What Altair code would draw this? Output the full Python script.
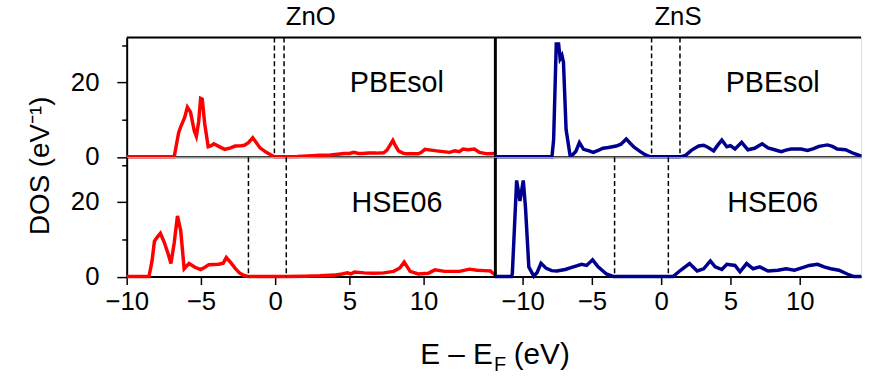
import altair as alt
import pandas as pd

FONT = "Liberation Sans"

# ---------------- data ----------------
zno_pbe_x = [-10, -6.8, -6.5, -6.35, -6.1, -5.91, -5.7, -5.45, -5.31, -5.15, -5.02, -4.91, -4.75, -4.51,
             -4.3, -4.13, -3.8, -3.4, -3.0, -2.69, -2.3, -2.07, -1.8, -1.51, -1.3, -1.02, -0.6, -0.24,
             -0.05, 0.6, 1.5, 2.5, 3.0, 3.73, 4.2, 4.65, 5.0, 5.3, 5.6, 5.9, 6.3, 6.8, 7.31, 7.53, 7.75,
             7.93, 8.1, 8.31, 8.6, 8.87, 9.2, 9.64, 9.85, 10.09, 10.5, 10.87, 11.3, 11.75, 12.1, 12.4,
             12.65, 13.0, 13.42, 13.76, 14.3, 14.8]
zno_pbe_y = [0, 0, 6.5, 8.2, 10.5, 13.3, 12.0, 7.0, 5.5, 9.5, 15.7, 15.5, 9.0, 2.7,
             3.0, 3.5, 2.8, 2.0, 2.4, 2.9, 3.0, 3.1, 3.8, 5.1, 4.0, 2.4, 1.2, 0.4,
             0, 0, 0.1, 0.3, 0.4, 0.5, 0.7, 0.9, 0.9, 1.2, 0.9, 0.9, 1.0, 1.0, 1.1, 1.8, 3.2,
             4.4, 3.0, 1.6, 1.0, 0.8, 0.8, 0.8, 1.2, 2.0, 1.8, 1.6, 1.4, 1.2, 1.6, 1.4,
             2.1, 1.9, 2.1, 1.2, 0.8, 0.9]
zno_pbe_gap = [-0.05, 0.6]

zno_hse_x = [-10, -8.5, -8.3, -8.13, -7.9, -7.73, -7.47, -7.2, -7.02, -6.8, -6.58, -6.36, -6.13, -5.8,
             -5.4, -5.02, -4.7, -4.47, -3.8, -3.5, -3.29, -3.0, -2.69, -2.4, -2.13, -1.8, 0.75, 2.0,
             3.0, 4.0, 4.5, 4.87, 5.1, 5.33, 6.0, 6.64, 7.3, 7.98, 8.4, 8.69, 8.9, 9.09, 9.64, 10.31,
             10.76, 11.42, 12.0, 12.42, 13.09, 13.6, 14.09, 14.5, 14.8]
zno_hse_y = [0, 0, 4.0, 9.5, 10.8, 11.6, 9.2, 6.0, 3.5, 9.0, 16.3, 12.3, 2.1, 3.5,
             2.5, 1.9, 2.6, 3.2, 3.3, 3.6, 5.1, 3.8, 2.2, 1.0, 0.35, 0, 0, 0.1,
             0.2, 0.4, 0.7, 1.0, 0.7, 1.2, 1.0, 0.9, 1.0, 1.4, 2.3, 3.9, 2.6, 1.4, 0.7, 0.9,
             1.8, 1.4, 1.4, 1.4, 2.0, 1.7, 1.6, 1.5, 0.5]
zno_hse_gap = [-1.8, 0.75]

zns_pbe_x = [-12, -7.88, -7.76, -7.57, -7.4, -7.29, -7.16, -7.05, -6.86, -6.57, -6.4, -6.15, -5.9, -5.6,
             -5.2, -4.9, -4.5, -4.19, -3.8, -3.24, -2.9, -2.52, -2.2, -1.93, -1.5, -1.21, -0.8, 1.36,
             1.76, 2.2, 2.71, 3.07, 3.4, 3.79, 4.1, 4.38, 4.74, 5.0, 5.33, 5.81, 6.26, 6.74, 7.29, 7.71,
             8.19, 8.67, 9.0, 9.38, 10.1, 10.57, 11.0, 11.4, 12.0, 12.36, 12.71, 13.31, 13.9, 14.45]
zns_pbe_y = [0, 0, 4.6, 30.3, 30.3, 26.3, 27.2, 25.4, 7.3, 0.3, 0.5, 1.5, 3.8, 2.0,
             1.6, 1.2, 1.8, 2.3, 2.5, 2.9, 3.4, 4.8, 3.5, 2.5, 1.4, 0.7, 0, 0,
             0.4, 1.8, 2.9, 3.1, 2.5, 1.6, 3.2, 4.5, 2.7, 3.0, 2.1, 3.9, 1.9, 2.3, 3.5, 2.4,
             1.9, 1.4, 1.8, 2.1, 2.1, 1.7, 2.2, 2.8, 3.2, 2.8, 2.1, 1.9, 0.9, 0.2]
zns_pbe_gap = [-0.69, 1.36]

zns_hse_x = [-12, -10.8, -10.74, -10.43, -10.19, -9.95, -9.79, -9.55, -9.19, -8.95, -8.67, -8.29, -7.9,
             -7.52, -6.93, -6.33, -5.74, -5.38, -4.95, -4.55, -3.95, -3.43, 0.52, 0.86, 1.4, 2.05, 2.6,
             3.07, 3.55, 3.9, 4.38, 4.74, 5.33, 5.69, 6.17, 6.64, 7.12, 7.71, 8.43, 9.02, 9.62, 10.21,
             10.69, 11.29, 11.76, 12.24, 12.83, 13.43, 13.9, 14.45]
zns_hse_y = [0, 0, 0.8, 25.8, 20.3, 25.8, 18.5, 2.6, 0.1, 1.1, 3.6, 2.2, 1.6,
             1.5, 1.9, 2.6, 3.3, 3.0, 4.5, 2.6, 0.7, 0, 0, 0, 1.7, 3.5, 1.5,
             2.1, 4.2, 2.6, 1.9, 3.3, 3.0, 1.3, 3.5, 2.1, 2.6, 1.5, 1.7, 2.1, 1.7, 2.4,
             3.0, 3.3, 2.6, 2.1, 1.7, 0.7, 0.0, 0]
zns_hse_gap = [-3.36, 0.52]

materials = ["ZnO", "ZnS"]
methods = ["PBEsol", "HSE06"]
colors = {"ZnO": "#ff0000", "ZnS": "#00008f"}
x_domains = {"ZnO": [-10, 14.8], "ZnS": [-12, 14.43]}
widths = {"ZnO": 372, "ZnS": 370}
x_ticks = [-10, -5, 0, 5, 10]
y_ticks = [0, 10, 20, 30]
y_max = 32
label_pos = {"ZnO": 8.2, "ZnS": 8.05}
label_y = 19.7

series = {
    ("ZnO", "PBEsol"): (zno_pbe_x, zno_pbe_y, zno_pbe_gap),
    ("ZnO", "HSE06"): (zno_hse_x, zno_hse_y, zno_hse_gap),
    ("ZnS", "PBEsol"): (zns_pbe_x, zns_pbe_y, zns_pbe_gap),
    ("ZnS", "HSE06"): (zns_hse_x, zns_hse_y, zns_hse_gap),
}

PANEL_H = 120.5


def panel(mat, meth, row, col):
    xs, ys, gap = series[(mat, meth)]
    df = pd.DataFrame({"E": xs, "DOS": ys})
    xscale = alt.Scale(domain=x_domains[mat], nice=False, zero=False)
    yscale = alt.Scale(domain=[0, y_max], nice=False, zero=True)

    if row == 1:
        x_axis = alt.Axis(orient="bottom", values=x_ticks, tickSize=8, tickWidth=1.5,
                          tickColor="black", labelFontSize=26, labelFont=FONT, labelColor="black",
                          labelPadding=4, labelFlush=False, domainWidth=2, domainColor="black",
                          grid=False, title=None)
    else:
        x_axis = alt.Axis(orient="bottom", labels=False, ticks=False, domainWidth=2,
                          domainColor="black", grid=False, title=None)

    if col == 0:
        y_axis = alt.Axis(orient="left", values=y_ticks,
                          labelExpr="datum.value % 20 == 0 ? datum.label : ''",
                          tickSize={"condition": {"test": "datum.value % 20 == 0", "value": 10},
                                    "value": 5},
                          tickWidth=1.5, tickColor="black", labelFontSize=26, labelFont=FONT,
                          labelColor="black", labelPadding=18, labelFlush=False,
                          domainWidth=2, domainColor="black", grid=False,
                          title="DOS (eV⁻¹)" if row == 0 else None,
                          titleFontSize=28, titleFont=FONT, titleFontWeight="normal",
                          titleColor="black", titleY=129, titlePadding=16)
    else:
        y_axis = alt.Axis(orient="left", labels=False, ticks=False, domainWidth=3,
                          domainColor="black", grid=False, title=None)

    X = lambda f: alt.X(f, scale=xscale, axis=x_axis)
    Y = lambda f: alt.Y(f, scale=yscale, axis=y_axis)

    line = alt.Chart(df).mark_line(color=colors[mat], strokeWidth=3.5, clip=False).encode(
        x=X("E:Q"), y=Y("DOS:Q"),
    )

    rules = alt.Chart(pd.DataFrame({"E": gap})).mark_rule(
        color="black", strokeDash=[5, 3], strokeWidth=1.5
    ).encode(x=X("E:Q"))

    lab = alt.Chart(pd.DataFrame({"E": [label_pos[mat]], "DOS": [label_y], "t": [meth]})).mark_text(
        fontSize=29, font=FONT, color="black", baseline="middle", align="center"
    ).encode(x=X("E:Q"), y=Y("DOS:Q"), text="t:N")

    layers = [line, rules, lab]

    if row == 0:
        top = alt.Chart(pd.DataFrame({"DOS": [y_max]})).mark_rule(
            color="black", strokeWidth=2
        ).encode(y=Y("DOS:Q"))
        layers.append(top)

    if row == 1 and col == 0:
        t1 = alt.Chart(pd.DataFrame({"t": ["E – E"]})).mark_text(
            fontSize=30, font=FONT, align="right", baseline="alphabetic", color="black"
        ).encode(x=alt.value(370), y=alt.value(209), text="t:N")
        t2 = alt.Chart(pd.DataFrame({"t": ["F"]})).mark_text(
            fontSize=20, font=FONT, align="left", baseline="alphabetic", color="black"
        ).encode(x=alt.value(371), y=alt.value(216), text="t:N")
        t3 = alt.Chart(pd.DataFrame({"t": ["(eV)"]})).mark_text(
            fontSize=30, font=FONT, align="left", baseline="alphabetic", color="black"
        ).encode(x=alt.value(391), y=alt.value(209), text="t:N")
        layers += [t1, t2, t3]

    props = dict(width=widths[mat], height=PANEL_H)
    if row == 0:
        props["title"] = alt.Title(mat, fontSize=26, font=FONT, fontWeight="normal",
                                   color="black", offset=7, anchor="middle")
    return alt.layer(*layers).properties(**props)


panels = [panel(m, meth, r, c) for r, meth in enumerate(methods) for c, m in enumerate(materials)]

chart = alt.concat(*panels, columns=2, spacing=0, bounds="flush").properties(
    padding={"left": 26, "top": 1, "right": 0, "bottom": 0}
).configure_view(stroke=None).configure(font=FONT)

chart.save("out.html", embed_options={"renderer": "svg", "actions": False})
